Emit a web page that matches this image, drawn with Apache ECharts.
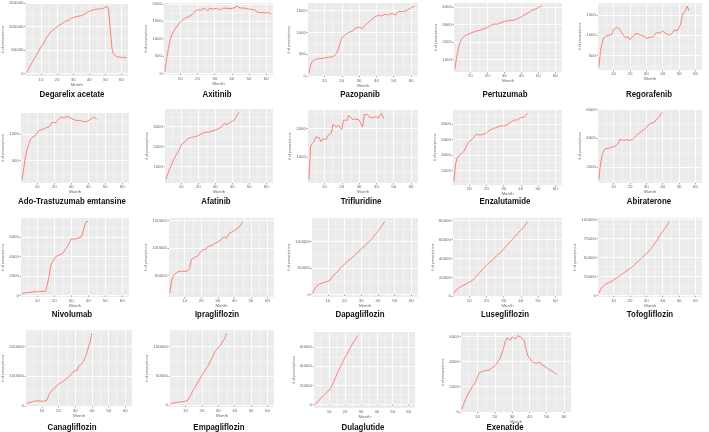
<!DOCTYPE html>
<html><head><meta charset="utf-8">
<script src="https://cdn.jsdelivr.net/npm/echarts@6/dist/echarts.min.js"></script>
<style>html,body{margin:0;padding:0;background:#fff}#c{width:709px;height:432px}</style>
</head><body><div id="c"></div>
<script>
// ---------- data (monthly # of prescriptions, month 1..n) ----------
const degarelix = [2000,8000,14000,20000,26000,32000,38000,44000,50000,56000,61000,67000,73000,79000,84000,88000,91000,94000,97000,100000,102000,104000,106000,107000,111000,110000,113000,115000,118000,120000,120000,121000,122000,122000,123000,124000,126000,129000,131000,133000,134000,135000,136000,137000,137000,138000,138000,138000,139000,141000,143000,135000,95000,55000,41000,37000,36000,35000,35000,34500,34500,34000,34000];
const axitinib = [50,400,700,950,1100,1200,1280,1350,1420,1470,1520,1560,1600,1620,1630,1650,1700,1760,1810,1830,1840,1820,1850,1880,1860,1800,1870,1860,1850,1880,1870,1860,1830,1860,1880,1850,1870,1880,1860,1900,1880,1890,1930,1900,1880,1860,1880,1840,1860,1830,1840,1810,1830,1790,1760,1770,1750,1760,1740,1730,1750,1720,1710];
const pazopanib = [50,250,330,360,380,390,400,410,400,410,420,440,430,420,440,470,520,620,750,870,910,950,980,1000,1010,1030,1060,1100,1110,1120,1100,1090,1140,1180,1220,1260,1280,1320,1360,1380,1390,1390,1380,1390,1420,1450,1400,1420,1440,1410,1400,1440,1490,1460,1480,1500,1500,1510,1540,1580,1590,1600];
const pertuzumab = [450,1100,1600,1950,2150,2280,2380,2420,2460,2500,2540,2570,2600,2630,2650,2680,2720,2760,2800,2830,2870,2950,3000,3030,3040,3020,3060,3100,3150,3180,3200,3220,3240,3250,3180,3250,3300,3350,3400,3440,3500,3560,3620,3660,3720,3800,3830,3870,3920,3980,4030,4060];
const regorafenib = [220,600,800,930,980,990,1000,980,1020,1140,1180,1200,1190,1140,1060,1000,950,920,960,890,900,980,1030,1050,1040,1000,990,1000,980,920,940,950,940,960,1000,1060,1080,1060,1090,1100,1060,1040,1010,1000,990,1060,1130,1160,1110,1150,1280,1500,1520,1620,1720,1600];
const adoTrastuzumab = [140,330,550,700,800,890,930,950,970,1020,1060,1070,1080,1100,1110,1120,1130,1150,1220,1200,1210,1250,1280,1320,1300,1290,1330,1300,1310,1280,1270,1260,1250,1270,1250,1240,1230,1230,1230,1230,1260,1290,1310,1300,1280];
const afatinib = [340,600,830,1030,1240,1410,1580,1710,1880,2090,2190,2220,2250,2400,2420,2460,2470,2500,2480,2540,2600,2650,2700,2720,2700,2720,2750,2780,2800,2830,2850,2900,2950,3000,3150,3100,3120,3180,3220,3300,3320,3450,3600,3720];
const trifluridine = [220,1370,1480,1550,1710,1740,1680,1540,1640,1680,1620,1760,1800,1850,2150,2100,2050,2120,2100,1960,2300,2350,2280,2460,2400,2320,2380,2330,2290,2300,2280,2060,2490,2450,2480,2380,2400,2380,2330,2420,2350,2460,2530,2350];
const enzalutamide = [580,2800,3700,3950,4100,4300,4500,5000,5400,5750,5950,6100,6300,6680,6600,6550,6600,6650,6700,6860,7000,7200,7350,7400,7450,7550,7650,7750,7800,7740,7800,7900,8100,8200,8300,8500,8400,8500,8600,8800,8700,8900,9100,9350];
const abiraterone = [1100,2190,2800,3110,3250,3300,3300,3330,3360,3400,3450,3500,3650,3930,3850,3850,3870,3900,3880,3830,3880,3950,4050,4200,4300,4380,4450,4550,4650,4720,4900,5000,5050,5080,5100,5300,5250,5500,5700,5800];
const nivolumab = [200,230,260,280,300,320,340,350,360,370,380,390,400,410,420,450,1900,3100,3400,3600,4000,4100,4150,4200,4300,4600,4850,5100,5400,5800,5750,5800,5850,5900,5950,6000,6100,7200,7600,7600];
const ipragliflozin = [17700,40000,48700,53000,56000,57000,58000,58000,58000,57500,58000,59000,63000,79000,81000,83000,85000,86000,90600,88000,97000,96000,98000,103000,105000,104000,106000,108000,110000,111000,112000,115000,117000,121000,117000,119000,127000,128000,130000,132000,134000,136000,138000,141000,148000];
const dapagliflozin = [2000,10000,15000,18000,20000,21000,22000,23000,24000,25000,26000,27000,34000,38000,41000,44000,48000,52000,55000,57000,60000,64000,66000,68000,71000,74000,77000,80000,83000,86000,89000,92000,95000,98000,100000,104000,108000,112000,116000,120000,124000,128000,133000,138000];
const lusegliflozin = [3000,6000,8000,9000,10000,11000,12000,13000,14000,15000,16000,17000,19000,21000,23000,25000,27000,29000,31000,33000,34000,36000,38000,39000,41000,43000,45000,46000,48000,50000,52000,54000,56000,58000,60000,62000,64000,66000,68000,70000,72000,74000,76000,79000];
const tofogliflozin = [3000,8000,11000,13000,15000,16000,17000,18000,19000,21000,22000,24000,25000,27000,28000,30000,31000,33000,34000,36000,37000,39000,41000,43000,45000,47000,49000,51000,53000,55000,57000,59000,62000,65000,68000,71000,74000,78000,81000,84000,87000,90000,93000,97000];
const canagliflozin = [9000,10000,13000,15000,16000,17000,18000,18000,17500,17000,16000,17000,20000,35000,45000,52000,57000,62000,68000,74000,77000,80000,84000,88000,94000,98000,103000,108000,117000,120000,119000,133000,138000,143000,150000,166000,178000,200000,215000,243000];
const empagliflozin = [3000,3500,4000,4500,5000,5200,5500,6000,6500,7000,7500,8500,16000,22000,27000,32000,37000,41000,46000,51000,56000,60000,64000,68000,75000,80000,86000,91000,95000,98000,101000,105000,110000,114000,122000];
const dulaglutide = [0,1500,3000,5000,7000,8500,10000,12000,13500,15000,17000,19000,24000,28000,32000,36000,39000,42000,46000,49000,52000,55000,58000,61000,64000,66000,69000,72000];
const exenatide = [200,600,950,1250,1500,1750,2000,2200,2400,2750,3100,3200,3220,3250,3280,3300,3330,3450,3550,3650,3800,4050,4250,4400,5000,5600,5850,5950,5700,5950,5850,5800,6050,5900,5950,5850,5650,5000,4500,4250,4100,3950,3900,3850,3800,3950,3750,3700,3600,3500,3400,3350,3250,3150,3050,2950];

// ---------- tick labels ----------
const titles = ['Degarelix acetate','Axitinib','Pazopanib','Pertuzumab','Regorafenib',
  'Ado-Trastuzumab emtansine','Afatinib','Trifluridine','Enzalutamide','Abiraterone',
  'Nivolumab','Ipragliflozin','Dapagliflozin','Lusegliflozin','Tofogliflozin',
  'Canagliflozin','Empagliflozin','Dulaglutide','Exenatide'];
const seriesData = [degarelix,axitinib,pazopanib,pertuzumab,regorafenib,
  adoTrastuzumab,afatinib,trifluridine,enzalutamide,abiraterone,
  nivolumab,ipragliflozin,dapagliflozin,lusegliflozin,tofogliflozin,
  canagliflozin,empagliflozin,dulaglutide,exenatide];
const xTicks = [10,20,30,40,50,60];
const yTickLabels = [
  [0,50000,100000,150000],[0,500,1000,1500,2000],[0,500,1000,1500],[1000,2000,3000,4000],[500,1000,1500],
  [500,1000],[1000,2000,3000],[1000,2000],[0,2000,4000,6000,8000],[2000,4000,6000],
  [0,2000,4000,6000],[50000,100000,150000],[0,50000,100000],[0,20000,40000,60000,80000],[0,25000,50000,75000,100000],
  [0,100000,200000],[0,50000,100000],[0,20000,40000,60000],[0,2000,4000,6000]
];

// ---------- layout (plot boxes: left, top, right, bottom; y-title x; title centre) ----------
const boxes = [
  [23,3,128,76],[164,3,273,75],[308,3,418,77],[454,3,562,72],[598,3,702,70],
  [21,113,129,183],[165,109,273,183],[308,110,418,183],[453,110,562,185],[598,109,702,183],
  [21,218,129,297],[169,218,274,297],[312,218,418,297],[453,218,562,297],[598,218,702,297],
  [26,330,132,407],[170,330,274,407],[314,332,415,408],[461,332,571,413]
];
const nameX = [4,148,289,437,581, 4,149,292,437,580, 4,147,292,437,581, 3,148,297,445];
const titlePos = [[72,94],[217,94],[360,94],[505,94],[649,94],
  [72,201],[216,201],[361,201],[505,201],[649,201],
  [72,314],[217,314],[360,314],[505,314],[650,314],
  [72,427],[219,427],[363,427],[505,427]];

const XMIN = 0.5, XMAX = 64;
const LINE = '#F8766D';
const txt = '#6a6a6a';

function minorOf(ticks, lo, hi) {
  const step = ticks.length > 1 ? ticks[1]-ticks[0] : ticks[0];
  const out = [];
  for (let v = ticks[0] - step/2; v >= lo; v -= step) out.push(v);
  for (let v = ticks[0] + step/2; v <= hi; v += step) out.push(v);
  return out.filter(v => v >= lo && v <= hi);
}

const grid = [], xAxis = [], yAxis = [], series = [], graphic = [];
seriesData.forEach((d, i) => {
  const b = boxes[i];
  const mn = Math.min(...d), mx = Math.max(...d), r = mx - mn;
  const ymin = mn - 0.05*r, ymax = mx + 0.05*r;
  grid.push({left:b[0], top:b[1], width:b[2]-b[0], height:b[3]-b[1], show:true,
    backgroundColor:'#EBEBEB', borderWidth:0});
  const yT = yTickLabels[i].filter(v => v >= ymin && v <= ymax);
  xAxis.push({gridIndex:i, type:'value', min:XMIN, max:XMAX, position:'bottom',
    axisLine:{show:false},
    axisTick:{show:true, length:1.5, customValues:xTicks, lineStyle:{color:'#555', width:0.5}},
    axisLabel:{customValues:xTicks, fontSize:4.4, color:txt, margin:2, fontFamily:'Liberation Sans'},
    splitLine:{show:true, lineStyle:{color:'#ffffff', width:0.9}},
    name:'Month', nameLocation:'middle', nameGap:7,
    nameTextStyle:{fontSize:4.4, color:txt, fontFamily:'Liberation Sans'}});
  xAxis.push({gridIndex:i, type:'value', min:XMIN, max:XMAX, position:'top',
    axisLine:{show:false}, axisTick:{show:false, customValues:minorOf(xTicks, XMIN, XMAX)},
    axisLabel:{show:false}, splitLine:{show:true, lineStyle:{color:'#ffffff', width:0.45}}});
  yAxis.push({gridIndex:i, type:'value', min:ymin, max:ymax, position:'left',
    axisLine:{show:false},
    axisTick:{show:true, length:1.5, customValues:yT, lineStyle:{color:'#555', width:0.5}},
    axisLabel:{customValues:yT, fontSize:4.4, color:txt, margin:2, fontFamily:'Liberation Sans',
      formatter: v => String(v)},
    splitLine:{show:true, lineStyle:{color:'#ffffff', width:0.9}},
    name:'# of prescriptions', nameLocation:'middle', nameGap:b[0]-nameX[i]-2,
    nameTextStyle:{fontSize:3.6, color:txt, fontFamily:'Liberation Sans'}});
  yAxis.push({gridIndex:i, type:'value', min:ymin, max:ymax, position:'right',
    axisLine:{show:false}, axisTick:{show:false, customValues:minorOf(yT, ymin, ymax)},
    axisLabel:{show:false}, splitLine:{show:true, lineStyle:{color:'#ffffff', width:0.45}}});
  series.push({type:'line', xAxisIndex:2*i, yAxisIndex:2*i, showSymbol:false, silent:true,
    data:d.map((v, k) => [k+1, v]), lineStyle:{color:LINE, width:0.9}, itemStyle:{color:LINE}});
  graphic.push({type:'text', x:titlePos[i][0], y:titlePos[i][1], scaleX:0.83,
    style:{text:titles[i], font:'bold 9.5px "Liberation Sans", Arial, sans-serif', fill:'#111',
      textAlign:'center', textVerticalAlign:'middle'}});
});

const chart = echarts.init(document.getElementById('c'), null, {renderer:'canvas'});
chart.setOption({animation:false, backgroundColor:'#fff', grid, xAxis, yAxis, series, graphic});
</script></body></html>
